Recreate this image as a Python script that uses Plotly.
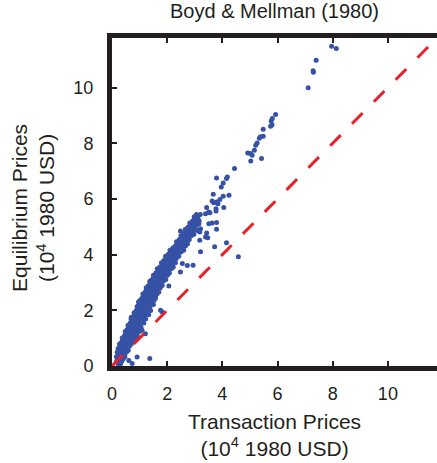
import plotly.graph_objects as go

# Scatter data (10^4 1980 USD)
band_rows = [
    (0.08, [0.22, 0.31]),
    (0.18, [0.17, 0.27, 0.36]),
    (0.26, [0.21, 0.33, 0.41]),
    (0.33, [0.16, 0.25, 0.38, 0.47]),
    (0.41, [0.23, 0.31, 0.44]),
    (0.49, [0.19, 0.28, 0.36, 0.52]),
    (0.56, [0.26, 0.40, 0.48, 0.59]),
    (0.63, [0.22, 0.33, 0.45, 0.55]),
    (0.71, [0.30, 0.39, 0.51, 0.63]),
    (0.79, [0.27, 0.44, 0.56, 0.70]),
    (0.86, [0.35, 0.48, 0.60, 0.74]),
    (0.94, [0.40, 0.53, 0.64, 0.79]),
    (1.01, [0.37, 0.58, 0.69, 0.85]),
    (1.09, [0.45, 0.55, 0.73, 0.92]),
    (1.16, [0.50, 0.63, 0.78, 0.88]),
    (1.24, [0.48, 0.60, 0.71, 0.84, 1.00]),
    (1.31, [0.55, 0.68, 0.80, 0.93]),
    (1.39, [0.60, 0.74, 0.86, 1.05]),
    (1.46, [0.58, 0.70, 0.82, 0.97]),
    (1.54, [0.66, 0.79, 0.90, 1.03, 1.15]),
    (1.61, [0.72, 0.85, 0.97, 1.09]),
    (1.69, [0.69, 0.80, 0.93, 1.04, 1.22]),
    (1.76, [0.77, 0.90, 1.01, 1.13]),
    (1.84, [0.83, 0.96, 1.07, 1.20, 1.33]),
    (1.91, [0.80, 0.92, 1.04, 1.15, 1.27]),
    (1.99, [0.88, 1.00, 1.12, 1.24, 1.40]),
    (2.06, [0.94, 1.06, 1.18, 1.30]),
    (2.14, [0.91, 1.03, 1.14, 1.26, 1.38]),
    (2.21, [0.99, 1.10, 1.22, 1.34, 1.50]),
    (2.29, [1.05, 1.17, 1.28, 1.41]),
    (2.36, [1.02, 1.14, 1.25, 1.37, 1.53]),
    (2.44, [1.09, 1.21, 1.32, 1.45, 1.58]),
    (2.51, [1.16, 1.28, 1.40, 1.52]),
    (2.59, [1.12, 1.24, 1.35, 1.48, 1.63]),
    (2.66, [1.20, 1.32, 1.44, 1.56, 1.70]),
    (2.74, [1.27, 1.39, 1.51, 1.62]),
    (2.81, [1.24, 1.36, 1.47, 1.59, 1.75]),
    (2.89, [1.32, 1.44, 1.55, 1.67, 1.82]),
    (2.96, [1.40, 1.51, 1.63, 1.74]),
    (3.04, [1.37, 1.48, 1.60, 1.71, 1.86]),
    (3.11, [1.45, 1.56, 1.68, 1.80, 1.95]),
    (3.19, [1.53, 1.64, 1.76, 1.88]),
    (3.26, [1.50, 1.62, 1.73, 1.85, 2.01]),
    (3.34, [1.59, 1.70, 1.82, 1.94, 2.08]),
    (3.41, [1.67, 1.78, 1.90, 2.02]),
    (3.49, [1.64, 1.76, 1.88, 1.99, 2.15]),
    (3.56, [1.73, 1.85, 1.96, 2.08, 2.22]),
    (3.64, [1.82, 1.93, 2.05, 2.17]),
    (3.71, [1.79, 1.91, 2.02, 2.14, 2.30]),
    (3.79, [1.88, 2.00, 2.11, 2.23]),
    (3.86, [1.97, 2.08, 2.20, 2.33]),
    (3.94, [1.94, 2.06, 2.17, 2.29, 2.42]),
    (4.01, [2.04, 2.15, 2.27, 2.39]),
    (4.09, [2.12, 2.24, 2.36, 2.50]),
    (4.16, [2.10, 2.21, 2.33, 2.45, 2.60]),
    (4.24, [2.20, 2.32, 2.44, 2.56]),
    (4.31, [2.29, 2.41, 2.53, 2.66]),
    (4.39, [2.36, 2.48, 2.60, 2.74]),
    (4.46, [2.34, 2.46, 2.58, 2.70]),
    (4.54, [2.44, 2.56, 2.68, 2.80]),
    (4.61, [2.52, 2.64, 2.77]),
    (4.69, [2.50, 2.62, 2.74, 2.88]),
    (4.76, [2.60, 2.72, 2.84]),
    (4.84, [2.68, 2.80, 2.93]),
    (4.91, [2.66, 2.78, 2.90, 3.02]),
    (4.99, [2.76, 2.88, 3.00]),
    (5.06, [2.84, 2.96, 3.08]),
    (5.14, [2.82, 2.94, 3.06]),
    (5.21, [2.92, 3.04, 3.16]),
    (5.29, [3.00, 3.12]),
    (5.36, [2.98, 3.10]),
    (5.44, [3.06, 3.20]),
]

outlier_transaction = [
    7.96, 8.13, 7.40, 7.29, 7.30, 7.11,
    5.93, 5.81, 5.77, 5.75, 5.80, 5.48, 5.48, 5.38, 5.34,
    5.26, 5.21, 5.16, 4.92, 5.02, 5.08, 5.03, 5.42, 4.44,
    3.79, 4.18, 4.15, 4.03, 3.96, 3.67, 4.24, 4.03,
    3.91, 3.79, 3.84, 3.69, 3.63, 3.77, 3.77, 4.05, 3.43,
    3.39, 3.51, 3.55, 3.04, 3.09, 3.15, 3.79, 3.63, 3.51,
    3.79, 2.48, 3.43, 3.18, 2.85, 2.97, 3.09, 3.21, 3.39, 3.47,
    3.18, 4.15, 3.21, 3.72, 4.58, 2.94, 2.73, 2.48, 2.55,
    2.06, 1.76, 1.82, 1.21, 1.09, 0.91, 1.37, 0.61, 0.73, 0.25,
    0.96, 0.70, 0.42, 1.58, 1.95, 2.35,
]
outlier_equilibrium = [
    11.48, 11.40, 10.98, 10.60, 10.55, 9.99,
    9.03, 8.89, 8.80, 8.61, 8.66, 8.50, 8.25, 8.23, 8.18,
    8.01, 7.93, 7.75, 7.65, 7.63, 7.57, 7.36, 7.45, 7.09,
    6.75, 6.79, 6.73, 6.57, 6.43, 6.17, 6.13, 6.10,
    5.98, 5.89, 5.83, 5.86, 5.93, 5.65, 5.57, 5.69, 5.69,
    5.47, 5.53, 5.50, 5.33, 5.23, 5.11, 5.15, 5.14, 5.11,
    4.91, 4.85, 4.78, 4.81, 4.69, 4.73, 4.87, 4.93, 4.63, 4.61,
    4.52, 4.43, 4.10, 4.28, 3.92, 3.62, 3.61, 3.38, 3.68,
    2.87, 2.00, 1.94, 1.16, 1.28, 0.32, 0.27, 0.20, 0.09, 0.42,
    2.30, 1.75, 0.95, 2.55, 3.30, 4.05,
]

identity_x = [0, 12]
identity_y = [0, 12]
tick_vals = [0, 2, 4, 6, 8, 10]

transaction = [x for _, xs in band_rows for x in xs] + outlier_transaction
equilibrium = [y for y, xs in band_rows for _ in xs] + outlier_equilibrium

ink = "#231f20"
font_family = "Liberation Sans, Arial, sans-serif"

fig = go.Figure()
fig.add_trace(go.Scatter(
    x=transaction, y=equilibrium, mode="markers",
    marker=dict(color="#3652a5", size=5, line=dict(width=0)),
    showlegend=False, hoverinfo="skip",
))
fig.add_trace(go.Scatter(
    x=identity_x, y=identity_y, mode="lines",
    line=dict(color="#e8222b", width=3, dash="15px,16px"),
    showlegend=False, hoverinfo="skip",
))

axis_common = dict(
    range=[0, 11.78], tickvals=tick_vals, ticks="inside", ticklen=5,
    tickwidth=1.5, tickcolor=ink, showline=True, linewidth=5, linecolor=ink,
    showgrid=False, zeroline=False,
    tickfont=dict(family=font_family, size=18, color=ink),
)
fig.update_xaxes(**axis_common, mirror="ticks", ticklabelstandoff=7)
fig.update_yaxes(**axis_common, mirror=False, ticklabelstandoff=10)

fig.update_layout(
    width=437, height=463,
    margin=dict(l=112, r=0, t=38, b=97),
    plot_bgcolor="white", paper_bgcolor="white",
    font=dict(family=font_family, color=ink),
    annotations=[
        dict(text="Boyd &amp; Mellman (1980)", xref="paper", yref="paper",
             x=0.5015, y=1.082, xanchor="center", yanchor="middle",
             showarrow=False, font=dict(size=20, color=ink)),
        dict(text="Transaction Prices<br>(10<sup>4</sup> 1980 USD)", xref="paper", yref="paper",
             x=0.5015, y=-0.21, xanchor="center", yanchor="middle",
             showarrow=False, font=dict(size=21, color=ink)),
        dict(text="Equilibrium Prices<br>(10<sup>4</sup> 1980 USD)", xref="paper", yref="paper",
             x=-0.243, y=0.482, xanchor="center", yanchor="middle", textangle=-90,
             showarrow=False, font=dict(size=21, color=ink)),
    ],
)

fig.write_html("out.html")
